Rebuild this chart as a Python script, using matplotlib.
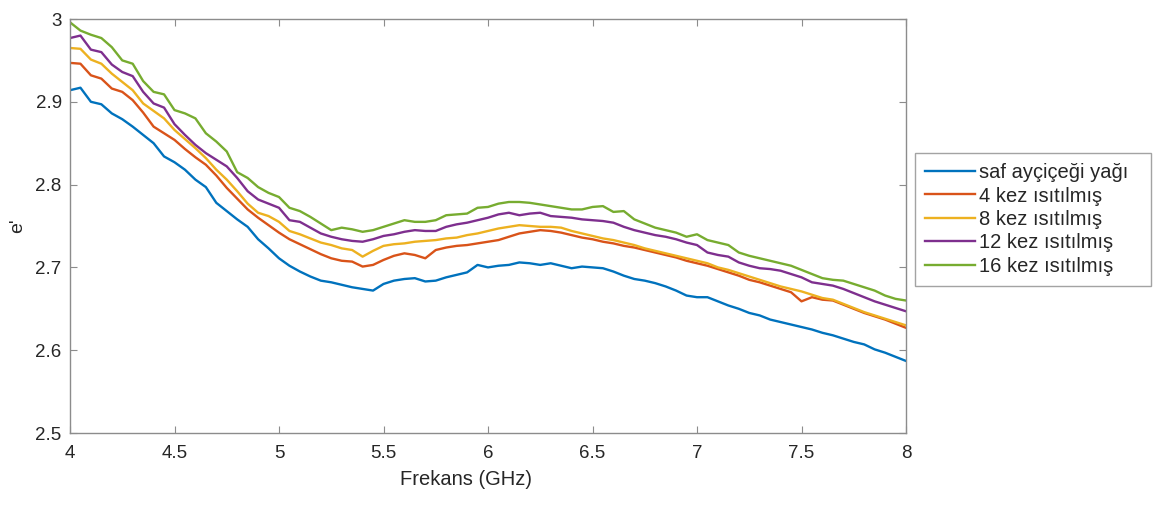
import numpy as np
import matplotlib
matplotlib.use("Agg")
import matplotlib.pyplot as plt

plt.rcParams['font.family'] = ['Liberation Sans', 'DejaVu Sans']

freq = [4.00 + 0.05 * i for i in range(81)]

saf = [2.914, 2.917, 2.900, 2.897, 2.886, 2.879, 2.870, 2.860, 2.850, 2.834,
       2.827, 2.818, 2.806, 2.797, 2.778, 2.768, 2.758, 2.749, 2.734, 2.723,
       2.711, 2.702, 2.695, 2.689, 2.684, 2.682, 2.679, 2.676, 2.674, 2.672,
       2.680, 2.684, 2.686, 2.687, 2.683, 2.684, 2.688, 2.691, 2.694, 2.703,
       2.700, 2.702, 2.703, 2.706, 2.705, 2.703, 2.705, 2.702, 2.699, 2.701,
       2.700, 2.699, 2.695, 2.690, 2.686, 2.684, 2.681, 2.677, 2.672, 2.666,
       2.664, 2.664, 2.659, 2.654, 2.650, 2.645, 2.642, 2.637, 2.634, 2.631,
       2.628, 2.625, 2.621, 2.618, 2.614, 2.610, 2.607, 2.601, 2.597, 2.592,
       2.587]

kez4 = [2.947, 2.946, 2.932, 2.928, 2.916, 2.912, 2.902, 2.887, 2.870, 2.862,
        2.854, 2.843, 2.833, 2.824, 2.811, 2.796, 2.783, 2.770, 2.760, 2.751,
        2.742, 2.734, 2.728, 2.722, 2.716, 2.711, 2.708, 2.707, 2.701, 2.703,
        2.709, 2.714, 2.717, 2.715, 2.711, 2.721, 2.724, 2.726, 2.727, 2.729,
        2.731, 2.733, 2.737, 2.741, 2.743, 2.745, 2.744, 2.742, 2.739, 2.736,
        2.734, 2.731, 2.729, 2.726, 2.724, 2.721, 2.718, 2.715, 2.712, 2.708,
        2.705, 2.702, 2.698, 2.694, 2.690, 2.685, 2.682, 2.678, 2.674, 2.670,
        2.659, 2.664, 2.661, 2.660, 2.655, 2.650, 2.645, 2.641, 2.637, 2.632,
        2.627]

kez8 = [2.965, 2.964, 2.951, 2.946, 2.934, 2.924, 2.914, 2.898, 2.889, 2.880,
        2.866, 2.855, 2.844, 2.832, 2.818, 2.806, 2.792, 2.777, 2.766, 2.762,
        2.755, 2.744, 2.740, 2.735, 2.730, 2.727, 2.723, 2.721, 2.713, 2.720,
        2.726, 2.728, 2.729, 2.731, 2.732, 2.733, 2.735, 2.736, 2.739, 2.741,
        2.744, 2.747, 2.749, 2.751, 2.750, 2.749, 2.749, 2.748, 2.744, 2.741,
        2.738, 2.735, 2.733, 2.730, 2.727, 2.723, 2.720, 2.717, 2.714, 2.711,
        2.708, 2.705, 2.700, 2.697, 2.693, 2.689, 2.685, 2.681, 2.677, 2.674,
        2.671, 2.667, 2.663, 2.661, 2.656, 2.651, 2.646, 2.642, 2.638, 2.634,
        2.630]

kez12 = [2.977, 2.980, 2.963, 2.960, 2.945, 2.936, 2.931, 2.912, 2.898, 2.893,
         2.873, 2.860, 2.848, 2.838, 2.830, 2.822, 2.808, 2.792, 2.782, 2.777,
         2.772, 2.757, 2.755, 2.748, 2.741, 2.737, 2.734, 2.732, 2.731, 2.734,
         2.738, 2.740, 2.743, 2.745, 2.744, 2.744, 2.749, 2.752, 2.754, 2.757,
         2.760, 2.764, 2.766, 2.763, 2.765, 2.766, 2.762, 2.761, 2.760, 2.758,
         2.757, 2.756, 2.754, 2.749, 2.745, 2.742, 2.739, 2.737, 2.734, 2.730,
         2.727, 2.718, 2.715, 2.713, 2.706, 2.702, 2.699, 2.698, 2.696, 2.692,
         2.688, 2.682, 2.680, 2.678, 2.674, 2.669, 2.664, 2.659, 2.655, 2.651,
         2.647]

kez16 = [2.996, 2.986, 2.981, 2.977, 2.966, 2.950, 2.946, 2.925, 2.912, 2.909,
         2.890, 2.886, 2.880, 2.862, 2.852, 2.840, 2.815, 2.808, 2.797, 2.790,
         2.785, 2.772, 2.768, 2.761, 2.753, 2.745, 2.748, 2.746, 2.743, 2.745,
         2.749, 2.753, 2.757, 2.755, 2.755, 2.757, 2.763, 2.764, 2.765, 2.772,
         2.773, 2.777, 2.779, 2.779, 2.778, 2.776, 2.774, 2.772, 2.770, 2.770,
         2.773, 2.774, 2.767, 2.768, 2.758, 2.753, 2.748, 2.745, 2.742, 2.737,
         2.740, 2.733, 2.730, 2.727, 2.718, 2.714, 2.711, 2.708, 2.705, 2.702,
         2.697, 2.692, 2.687, 2.685, 2.684, 2.680, 2.676, 2.672, 2.666, 2.662,
         2.660]

labels = ["saf ayçiçeği yağı", "4 kez ısıtılmış", "8 kez ısıtılmış",
          "12 kez ısıtılmış", "16 kez ısıtılmış"]
colors = ["#0072BD", "#D95319", "#EDB120", "#7E2F8E", "#77AC30"]
series = [saf, kez4, kez8, kez12, kez16]

xticks = [4, 4.5, 5, 5.5, 6, 6.5, 7, 7.5, 8]
xticklabels = ["4", "4.5", "5", "5.5", "6", "6.5", "7", "7.5", "8"]
yticks = [2.5, 2.6, 2.7, 2.8, 2.9, 3.0]
yticklabels = ["2.5", "2.6", "2.7", "2.8", "2.9", "3"]

W, H = 1153, 505
fig = plt.figure(figsize=(W / 100, H / 100), dpi=100)
ax = fig.add_axes([70 / W, 1 - 433 / H, (906 - 70) / W, (433 - 19) / H])

for s, c, lab in zip(series, colors, labels):
    ax.plot(freq, s, color=c, lw=1.7, label=lab)

ax.set_xlim(4, 8)
ax.set_ylim(2.5, 3.0)
ax.set_xticks(xticks)
ax.set_xticklabels(xticklabels)
ax.set_yticks(yticks)
ax.set_yticklabels(yticklabels)

axcol = "#8c8c8c"
for sp in ax.spines.values():
    sp.set_color(axcol)
    sp.set_linewidth(1.0)
ax.tick_params(direction="in", length=5, width=0.8, color=axcol,
               labelsize=13.5, labelcolor="#262626", top=True, right=True)
ax.tick_params(axis="x", pad=9)
ax.tick_params(axis="y", pad=6)

ax.set_xlabel("Frekans (GHz)", fontsize=14.5, color="#262626")
ax.xaxis.set_label_coords((466 - 70) / (906 - 70), -0.09)
ax.set_ylabel("e'", fontsize=14, color="#262626")
ax.yaxis.set_label_coords(-0.052, 0.5)

leg = ax.legend(loc="upper left",
                bbox_to_anchor=(915 / W, 1 - 284 / H, 236 / W, 131 / H),
                bbox_transform=fig.transFigure, mode="expand",
                fontsize=14.5, frameon=True,
                fancybox=False, borderaxespad=0, handlelength=2.5,
                handletextpad=0.2, labelspacing=0.22, borderpad=0.5)
leg.get_frame().set_edgecolor("#8c8c8c")
leg.get_frame().set_linewidth(1.0)
for t in leg.get_texts():
    t.set_color("#262626")

fig.savefig("out.png", dpi=100)
